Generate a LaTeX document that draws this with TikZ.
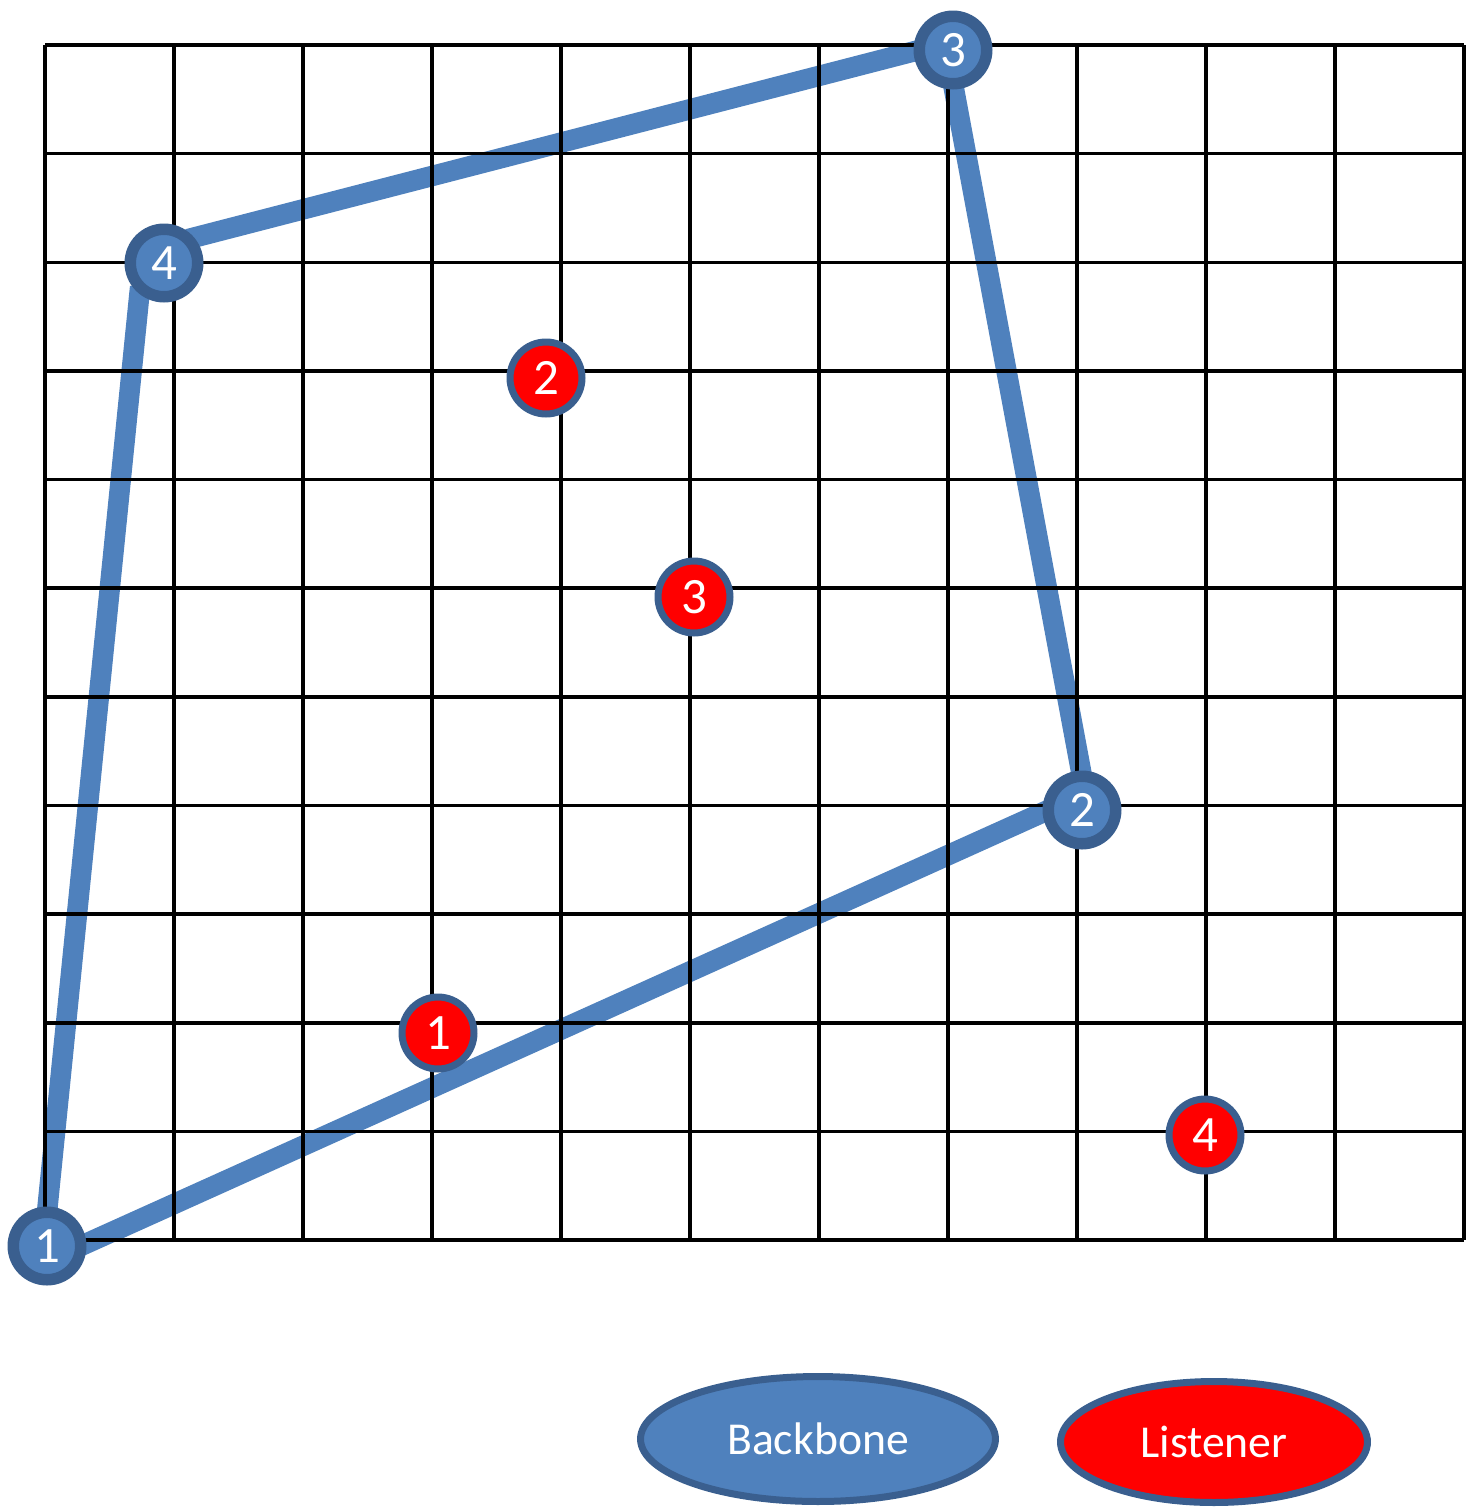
\documentclass[tikz,border=0pt]{standalone}
\usepackage{fontspec}
\setmainfont{Carlito}
\usetikzlibrary{shapes.geometric, backgrounds}

\definecolor{bbfill}{HTML}{4F81BD}
\definecolor{bbline}{HTML}{3A5F8F}
\definecolor{lsfill}{HTML}{FF0000}

\begin{document}
\begin{tikzpicture}[
    x=0.02cm, y=-0.02cm,
    gridline/.style={draw=black, line width=0.07cm},
    backbone/.style={circle, draw=bbline, fill=bbfill, line width=0.23cm, minimum size=1.35cm, inner sep=0pt, outer sep=0pt, text=white, font=\fontsize{29}{34}\selectfont},
    listener/.style={circle, draw=bbline, fill=lsfill, line width=0.14cm, minimum size=1.44cm, inner sep=0pt, text=white, font=\fontsize{29}{34}\selectfont},
    link/.style={draw=bbfill, line width=0.41cm},
    legendkey/.style={ellipse, draw=bbline, line width=0.14cm, inner sep=0pt, text=white, font=\fontsize{26}{31}\selectfont}
]
\useasboundingbox (0,0) rectangle (1469,1509);

% Grid
\foreach \i in {0,...,11}
    \draw[gridline] (45+129*\i,45) -- (45+129*\i,1240);
\foreach \j in {0,...,11}
    \draw[gridline] (45,45+108.64*\j) -- (1464,45+108.64*\j);

% Backbone nodes
\node[backbone] (bb1) at (47,1246) {1};
\node[backbone] (bb2) at (1082,810) {2};
\node[backbone] (bb3) at (953,50) {3};
\node[backbone] (bb4) at (164,263) {4};

% Listener nodes
\node[listener] (ls1) at (438,1033) {1};
\node[listener] (ls2) at (546,378) {2};
\node[listener] (ls3) at (694,597) {3};
\node[listener] (ls4) at (1205,1135) {4};

% Backbone links
\begin{scope}[on background layer]
\draw[link] (bb1.east) -- (bb2.west);
\draw[link] (bb2.north) -- (bb3.south);
\draw[link] (bb3.west) -- (bb4.north east);
\draw[link] (bb4.south west) -- (bb1.north);
\end{scope}

% Legend
\node[legendkey, fill=bbfill, minimum width=7.1cm, minimum height=2.5cm] (bbkey) at (818,1439) {Backbone};
\node[legendkey, fill=lsfill, minimum width=6.14cm, minimum height=2.42cm] (lskey) at (1214,1442) {Listener};

\end{tikzpicture}
\end{document}
